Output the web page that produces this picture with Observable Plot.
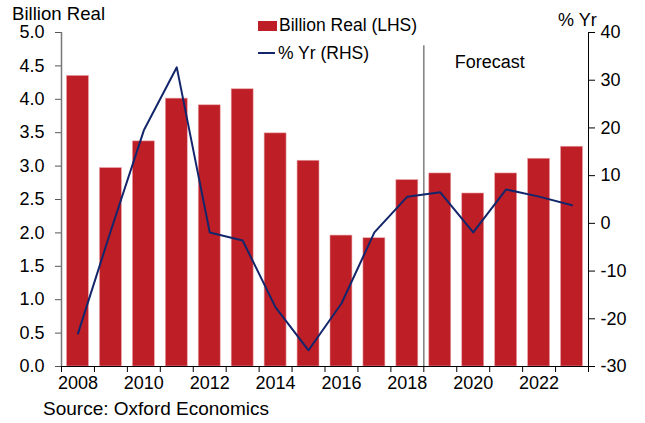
<!DOCTYPE html>
<html><head><meta charset="utf-8">
<script src="https://cdn.jsdelivr.net/npm/d3@7"></script>
<script src="https://cdn.jsdelivr.net/npm/@observablehq/plot@0.6"></script>
<style>
body{margin:0;background:#fff;font-family:Arial,"Liberation Sans",sans-serif;}
#wrap{position:relative;width:645px;height:423px;}
.t{position:absolute;font-size:18px;color:#000;white-space:nowrap;}
</style></head>
<body><div id="wrap">
<div class="t" style="left:12px;top:3px;font-size:18.6px;">Billion Real</div>
<div class="t" style="left:558px;top:10px;">% Yr</div>
<div class="t" style="left:258px;top:15px;font-size:17.5px;"><span style="display:inline-block;width:19px;height:10px;background:#be1e26;vertical-align:0px;margin-right:2px"></span>Billion Real (LHS)</div>
<div class="t" style="left:258px;top:43px;font-size:17.5px;"><span style="display:inline-block;width:17px;height:2px;background:#13266b;vertical-align:5px;margin-right:3px"></span>% Yr (RHS)</div>
<div class="t" style="left:43px;top:398px;font-size:19px;">Source: Oxford Economics</div>
</div>
<script>
const years = [2008,2009,2010,2011,2012,2013,2014,2015,2016,2017,2018,2019,2020,2021,2022,2023];
const billionReal = [4.35,2.97,3.37,4.01,3.91,4.15,3.49,3.08,1.96,1.92,2.79,2.89,2.59,2.89,3.11,3.29];
const pctYr = [-23.1,-1.5,19.5,32.7,-1.9,-3.6,-17.6,-26.6,-16.8,-1.9,5.6,6.5,-1.9,7.1,5.6,3.8];
const leftTicks = [0,0.5,1,1.5,2,2.5,3,3.5,4,4.5,5];
const rightTicks = [-30,-20,-10,0,10,20,30,40];
const xLabels = [2008,2010,2012,2014,2016,2018,2020,2022];
const forecastStart = 2019;

const rMin = -30, rMax = 40, lMax = 5;
const toLeft = v => (v - rMin) / (rMax - rMin) * lMax;

const data = years.map((y,i)=>({year:y, val:billionReal[i], pct:pctYr[i]}));
const boundaries = d3.range(years[0]-0.5, years[years.length-1]+1, 1);

const chart = Plot.plot({
  width:645, height:423,
  marginLeft:61, marginRight:57, marginTop:32, marginBottom:57,
  style:{fontFamily:'Arial,"Liberation Sans",sans-serif', fontSize:"18px", color:"#000", background:"#fff"},
  x:{domain:[years[0]-0.5, years[years.length-1]+0.5]},
  y:{domain:[0,lMax]},
  marks:[
    Plot.rectY(data,{x1:d=>d.year-0.5, x2:d=>d.year+0.5, y1:0, y2:"val", fill:"#be1e26", stroke:"#e8a0a4", strokeWidth:0.6, insetLeft:5.5, insetRight:5.5}),
    Plot.ruleX([forecastStart-0.5],{y1:0, y2:4.8, stroke:"#7f7f7f", strokeWidth:1.5}),
    Plot.text(["Forecast"],{x:forecastStart+1.5, y:4.55, text:d=>d, fontSize:18, fill:"#000"}),
    Plot.line(data,{x:"year", y:d=>toLeft(d.pct), stroke:"#13266b", strokeWidth:2}),
    Plot.axisY(leftTicks,{anchor:"left", tickSize:6, tickPadding:11, tickFormat:d=>d.toFixed(1), stroke:"#555", fill:"#000", label:null, fontSize:18}),
    Plot.ruleX([years[0]-0.5],{stroke:"#777", strokeWidth:1.5}),
    Plot.axisY(rightTicks.map(toLeft),{anchor:"right", tickSize:6, tickPadding:6, tickFormat:d=>String(Math.round(d/lMax*(rMax-rMin)+rMin)), stroke:"#000", label:null, fontSize:18}),
    Plot.ruleX([years[years.length-1]+0.5],{stroke:"#000", strokeWidth:1}),
    Plot.axisX(boundaries,{anchor:"bottom", tickSize:6, tickFormat:()=>"", label:null, stroke:"#000"}),
    Plot.axisX(xLabels,{anchor:"bottom", tickSize:0, tickPadding:10, tickFormat:d=>String(d), label:null, fontSize:18}),
    Plot.ruleY([0],{stroke:"#000", strokeWidth:1.2})
  ]
});
chart.style.position="absolute"; chart.style.left="0"; chart.style.top="0"; chart.style.zIndex="0";
const wrap = document.getElementById("wrap");
wrap.insertBefore(chart, wrap.firstChild);
document.querySelectorAll(".t").forEach(e=>{e.style.zIndex="1";});
</script>
</body></html>
